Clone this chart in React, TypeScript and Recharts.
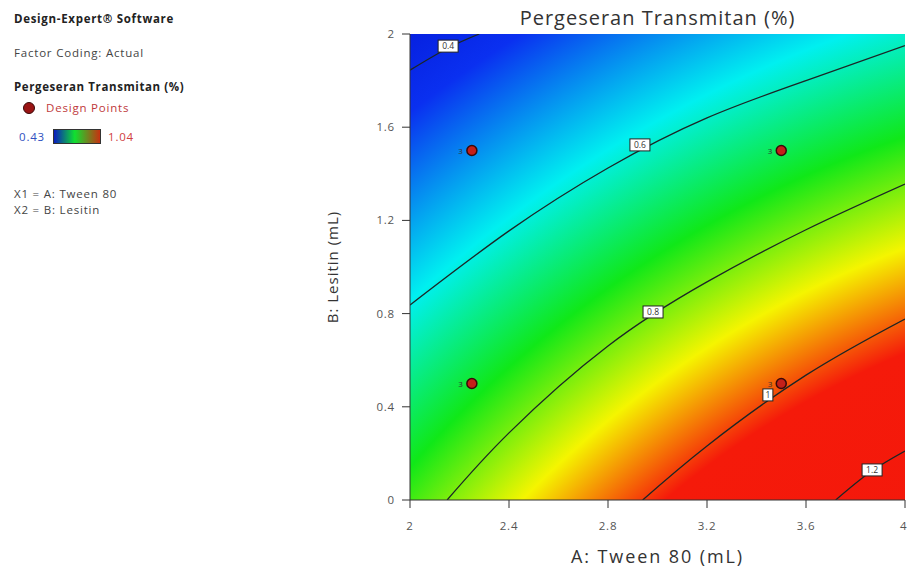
import { ComposedChart, XAxis, YAxis, Line, Scatter, ReferenceArea } from 'recharts';

const xTicks = [2, 2.4, 2.8, 3.2, 3.6, 4];
const yTicks = [0, 0.4, 0.8, 1.2, 1.6, 2];

// contour traces: x = A: Tween 80, y = B: Lesitin
const contour04 = [{ x: 2, y: 1.845 }, { x: 2.154, y: 1.94 }, { x: 2.28, y: 2 }];
const contour06 = [
  { x: 2, y: 0.837 }, { x: 2.4, y: 1.155 }, { x: 2.8, y: 1.425 },
  { x: 3.2, y: 1.64 }, { x: 3.6, y: 1.8 }, { x: 4, y: 1.95 },
];
const contour08 = [
  { x: 2.15, y: 0 }, { x: 2.4, y: 0.288 }, { x: 2.8, y: 0.661 },
  { x: 3.2, y: 0.936 }, { x: 3.6, y: 1.16 }, { x: 4, y: 1.356 },
];
const contour10 = [{ x: 2.94, y: 0 }, { x: 3.2, y: 0.232 }, { x: 3.6, y: 0.536 }, { x: 4, y: 0.777 }];
const contour12 = [{ x: 3.72, y: 0 }, { x: 3.86, y: 0.12 }, { x: 4, y: 0.21 }];

const contours = [contour04, contour06, contour08, contour10, contour12];
const contourLevels = [0.4, 0.6, 0.8, 1, 1.2];
const contourLabelA = [2.154, 2.929, 2.982, 3.446, 3.867];
const contourLabelB = [1.948, 1.524, 0.807, 0.451, 0.129];

const designA = [2.25, 3.5, 2.25, 3.5];
const designB = [1.5, 1.5, 0.5, 0.5];
const designRuns = [3, 3, 3, 3];

const scaleLow = 0.43;
const scaleHigh = 1.04;

const contourTags = contourLevels.map((level, i) => ({ x: contourLabelA[i], y: contourLabelB[i], level }));
const designPoints = designA.map((a, i) => ({ x: a, y: designB[i], runs: designRuns[i] }));

// radial colour field, red in the lower right fading out to blue
const SURFACE = { cx: 1270, cy: 1220, r: 1500 };
const SURFACE_STOPS = [
  { offset: 0, color: '#f01010' },
  { offset: 0.627, color: '#f51a0a' },
  { offset: 0.692, color: '#f5f500' },
  { offset: 0.762, color: '#10e818' },
  { offset: 0.839, color: '#00f0f0' },
  { offset: 0.935, color: '#0a30f0' },
  { offset: 1, color: '#0418d8' },
];

const FONT = '"Open Sans", "Noto Sans", sans-serif';

const ContourTag = (props: any) => {
  const { cx, cy, payload } = props;
  const text = String(payload.level);
  const w = text.length * 5 + 5;
  return (
    <g>
      <rect x={cx - w / 2} y={cy - 6} width={w} height={12} fill="#fff" stroke="#222" strokeWidth={1} />
      <text x={cx} y={cy + 3} textAnchor="middle" fontSize={8.5} fill="#333" fontFamily={FONT}>
        {text}
      </text>
    </g>
  );
};

const DesignDot = (props: any) => {
  const { cx, cy, payload } = props;
  return (
    <g>
      <circle cx={cx} cy={cy} r={5} fill="#c4201a" stroke="#3a0a0a" strokeWidth={1.5} />
      <text x={cx - 9} y={cy + 3} textAnchor="end" fontSize={8} fill="#333" fontFamily={FONT}>
        {payload.runs}
      </text>
    </g>
  );
};

const side = (top: number, extra: any = {}) => ({
  position: 'absolute' as const,
  left: 14,
  top,
  fontSize: 11.5,
  letterSpacing: 0.8,
  lineHeight: 1,
  color: '#444',
  whiteSpace: 'nowrap' as const,
  ...extra,
});

const tickStyle = { fontSize: 11.5, fill: '#555', fontFamily: FONT, letterSpacing: 0.8 };

export default function App() {
  return (
    <div style={{ position: 'absolute', left: 0, top: 0, width: 907, height: 569, background: '#fff', fontFamily: FONT }}>
      <div style={side(13, { fontWeight: 700, color: '#222', letterSpacing: 0.7 })}>Design-Expert® Software</div>
      <div style={side(47)}>Factor Coding: Actual</div>
      <div style={side(81, { fontWeight: 700, color: '#222', letterSpacing: 0.6 })}>Pergeseran Transmitan (%)</div>
      <div style={{ position: 'absolute', left: 23, top: 102, width: 12, height: 12, borderRadius: '50%', background: '#9a1414', border: '1px solid #3a0a0a', boxSizing: 'border-box' }} />
      <div style={side(102, { left: 46, color: '#c0393b' })}>Design Points</div>
      <div style={side(131, { left: 19, color: '#3050c0' })}>{scaleLow.toFixed(2)}</div>
      <div style={{ position: 'absolute', left: 53, top: 129, width: 48, height: 15, border: '1px solid #333', boxSizing: 'border-box', background: 'linear-gradient(to right, #0a1cc0, #10e030 45%, #c83010)' }} />
      <div style={side(131, { left: 108, color: '#d04040' })}>{scaleHigh.toFixed(2)}</div>
      <div style={side(188)}>X1 = A: Tween 80</div>
      <div style={side(204)}>X2 = B: Lesitin</div>
      <div style={{ position: 'absolute', left: 410, width: 495, top: 6, textAlign: 'center', fontSize: 20, letterSpacing: 1, color: '#333', lineHeight: 1.2 }}>
        Pergeseran Transmitan (%)
      </div>
      <ComposedChart width={907} height={569} margin={{ top: 34, right: 2, bottom: 0, left: 330 }}>
        <defs>
          <radialGradient id="surface" gradientUnits="userSpaceOnUse" cx={SURFACE.cx} cy={SURFACE.cy} r={SURFACE.r}>
            {SURFACE_STOPS.map((s) => (
              <stop key={s.offset} offset={s.offset} stopColor={s.color} />
            ))}
          </radialGradient>
        </defs>
        <XAxis
          type="number"
          dataKey="x"
          domain={[2, 4]}
          ticks={xTicks}
          allowDataOverflow
          height={69}
          tickSize={8}
          tickMargin={14}
          tick={tickStyle}
          axisLine={{ stroke: '#333' }}
          tickLine={{ stroke: '#333' }}
          label={{ value: 'A: Tween 80 (mL)', position: 'insideBottom', offset: 6, fontSize: 18, fill: '#333', fontFamily: FONT, letterSpacing: 1.9 }}
        />
        <YAxis
          type="number"
          dataKey="y"
          domain={[0, 2]}
          ticks={yTicks}
          allowDataOverflow
          width={80}
          tickSize={8}
          tickMargin={7}
          tick={tickStyle}
          axisLine={{ stroke: '#333' }}
          tickLine={{ stroke: '#333' }}
          label={{ value: 'B: Lesitin (mL)', angle: -90, position: 'insideLeft', offset: 3, fontSize: 15, fill: '#333', fontFamily: FONT, letterSpacing: 1, style: { textAnchor: 'middle' } }}
        />
        <ReferenceArea x1={2} x2={4} y1={0} y2={2} fill="url(#surface)" fillOpacity={1} stroke="none" />
        {contours.map((c, i) => (
          <Line
            key={contourLevels[i]}
            data={c}
            dataKey="y"
            type="natural"
            stroke="#1c2626"
            strokeWidth={1.3}
            dot={false}
            activeDot={false}
            isAnimationActive={false}
          />
        ))}
        <Scatter data={contourTags} dataKey="y" shape={ContourTag} isAnimationActive={false} />
        <Scatter data={designPoints} dataKey="y" shape={DesignDot} isAnimationActive={false} />
      </ComposedChart>
    </div>
  );
}
